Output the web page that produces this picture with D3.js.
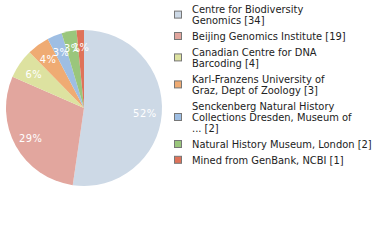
<!DOCTYPE html>
<html>
<head>
<meta charset="utf-8">
<script src="https://cdn.jsdelivr.net/npm/d3@7"></script>
<style>
  body { margin: 0; background: #fff; }
  svg { display: block; }
</style>
</head>
<body>
<div id="chart"></div>
<script>
// institutions and record counts, in pie order
var labels = [
    ["Centre for Biodiversity", "Genomics [34]"],
    ["Beijing Genomics Institute [19]"],
    ["Canadian Centre for DNA", "Barcoding [4]"],
    ["Karl-Franzens University of", "Graz, Dept of Zoology [3]"],
    ["Senckenberg Natural History", "Collections Dresden, Museum of", "... [2]"],
    ["Natural History Museum, London [2]"],
    ["Mined from GenBank, NCBI [1]"]
];
var counts = [34, 19, 4, 3, 2, 2, 1];
var colors = ["#cdd9e6", "#e2a69e", "#dde2a0", "#efab73", "#9ebee3", "#9ac67c", "#df7259"];

var width = 380, height = 240;
var cx = 84, cy = 108, radius = 78;
var font = "'DejaVu Sans Condensed', 'DejaVu Sans', sans-serif";

var svg = d3.select("#chart").append("svg")
    .attr("width", width)
    .attr("height", height);

var total = d3.sum(counts);
var pie = d3.pie().sort(null).value(function (d) { return d; });
var arcs = pie(counts);
var arc = d3.arc().innerRadius(0).outerRadius(radius);
var labelArc = d3.arc().innerRadius(61).outerRadius(61);

var g = svg.append("g").attr("transform", "translate(" + cx + "," + cy + ")");
g.selectAll("path.slice").data(arcs).enter().append("path")
    .attr("class", "slice")
    .attr("d", arc)
    .attr("fill", function (d, i) { return colors[i]; });

g.selectAll("text.pct").data(arcs).enter().append("text")
    .attr("class", "pct")
    .attr("transform", function (d) { return "translate(" + labelArc.centroid(d) + ")"; })
    .attr("text-anchor", "middle")
    .attr("dy", "0.38em")
    .attr("fill", "#fff")
    .style("font-family", font)
    .style("font-size", "11px")
    .style("letter-spacing", "0.5px")
    .text(function (d) { return Math.floor(d.value / total * 100) + "%"; });

// legend
var lineH = 11.2, gap = 4.6;
var legend = svg.append("g").attr("transform", "translate(174,13)");
var y = 0;
labels.forEach(function (lines, i) {
    var item = legend.append("g").attr("transform", "translate(0," + y + ")");
    var mid = (lines.length - 1) * lineH / 2 - 4;
    item.append("rect")
        .attr("x", 0.5).attr("y", mid - 3.5)
        .attr("width", 7).attr("height", 7)
        .attr("fill", colors[i])
        .attr("stroke", "#777")
        .attr("stroke-width", 1);
    item.selectAll("text").data(lines).enter().append("text")
        .attr("x", 18)
        .attr("y", function (d, j) { return j * lineH; })
        .attr("fill", "#222")
        .style("font-family", font)
        .style("font-size", "11px")
        .text(function (d) { return d; });
    y += lines.length * lineH + gap;
});
</script>
</body>
</html>
